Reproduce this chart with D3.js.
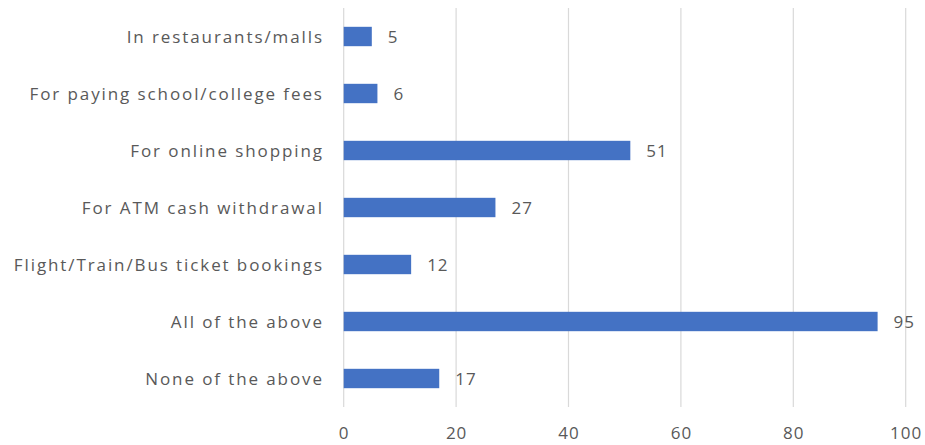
<!DOCTYPE html>
<html>
<head>
<meta charset="utf-8">
<script src="https://cdn.jsdelivr.net/npm/d3@7"></script>
<style>
  html, body { margin: 0; padding: 0; background: #fff; }
  svg { display: block; }
  text { font-family: "Open Sans", "Noto Sans", sans-serif; fill: #595959; }
</style>
</head>
<body>
<svg id="chart" width="925" height="445"></svg>
<script>
// Uses of the card, top to bottom
const categories = [
  "In restaurants/malls",
  "For paying school/college fees",
  "For online shopping",
  "For ATM cash withdrawal",
  "Flight/Train/Bus ticket bookings",
  "All of the above",
  "None of the above"
];
const values = [5, 6, 51, 27, 12, 95, 17];
const tickValues = [0, 20, 40, 60, 80, 100];

const svg = d3.select("#chart");
const plotLeft = 343.7, plotRight = 905.7, plotTop = 8, plotBottom = 407;
const fontSize = 17;
const labelSpacing = 1.9;

const x = d3.scaleLinear().domain([0, 100]).range([plotLeft, plotRight]);
const y = d3.scaleBand().domain(categories).range([plotTop, plotBottom]).paddingInner(0.66).paddingOuter(0.33);

// vertical gridlines
svg.append("g")
  .selectAll("line")
  .data(tickValues)
  .join("line")
  .attr("x1", d => x(d)).attr("x2", d => x(d))
  .attr("y1", plotTop).attr("y2", plotBottom)
  .attr("stroke", "#d9d9d9")
  .attr("stroke-width", 1.2);

// bars
svg.append("g")
  .selectAll("rect")
  .data(values)
  .join("rect")
  .attr("x", x(0))
  .attr("y", (d, i) => y(categories[i]))
  .attr("width", d => x(d) - x(0))
  .attr("height", y.bandwidth())
  .attr("fill", "#4472C4");

// value labels
svg.append("g")
  .selectAll("text")
  .data(values)
  .join("text")
  .attr("x", d => x(d) + 16)
  .attr("y", (d, i) => y(categories[i]) + y.bandwidth() / 2)
  .attr("dy", "0.36em")
  .attr("font-size", fontSize)
  .attr("letter-spacing", 1)
  .text(d => d);

// category axis labels
svg.append("g")
  .selectAll("text")
  .data(categories)
  .join("text")
  .attr("x", 322 + labelSpacing)
  .attr("y", d => y(d) + y.bandwidth() / 2)
  .attr("dy", "0.36em")
  .attr("text-anchor", "end")
  .attr("font-size", fontSize)
  .attr("letter-spacing", labelSpacing)
  .text(d => d);

// value axis tick labels
const xAxis = d3.axisBottom(x).tickValues(tickValues).tickSize(0).tickPadding(0);
const gx = svg.append("g").attr("transform", `translate(0, ${plotBottom + 20})`).call(xAxis);
gx.select(".domain").remove();
gx.selectAll("text")
  .attr("font-size", fontSize)
  .attr("font-family", "'Open Sans', 'Noto Sans', sans-serif")
  .attr("fill", "#595959")
  .attr("letter-spacing", 1)
  .attr("dy", "0.36em")
  .attr("y", 6);
</script>
</body>
</html>
